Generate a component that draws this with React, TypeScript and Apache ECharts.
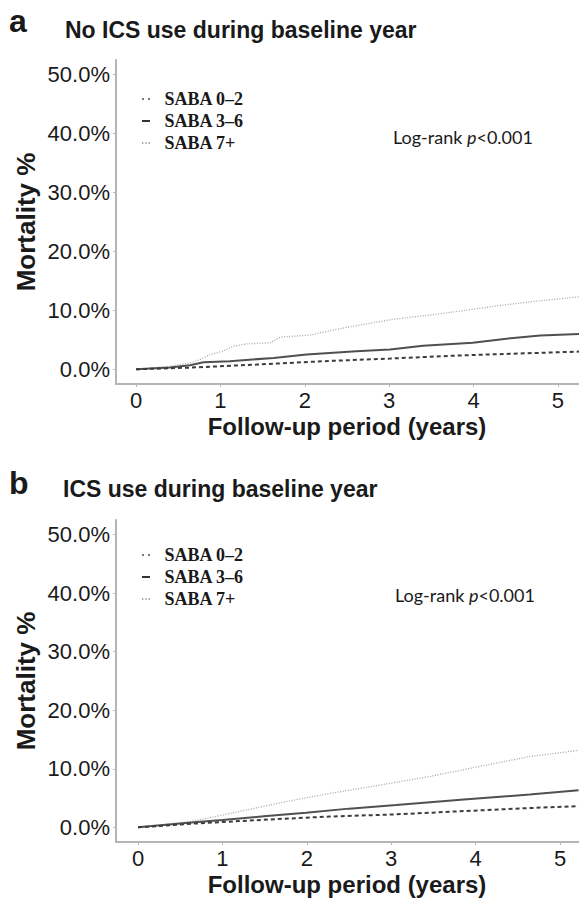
import React, { useEffect, useRef } from "react";
import * as echarts from "echarts";

const SERIES_NAMES = ["SABA 0–2", "SABA 3–6", "SABA 7+"];
const X_TICKS = [0, 1, 2, 3, 4, 5];
const Y_TICKS = [0, 10, 20, 30, 40, 50];

// Panel a: No ICS use during baseline year (years, mortality %)
const A_SABA_0_2 = [[0, 0], [0.64, 0.28], [1.43, 0.8], [2.22, 1.37], [3.01, 1.82], [3.8, 2.33], [4.59, 2.7], [5.25, 3.0]];
const A_SABA_3_6 = [[0, 0], [0.4, 0.3], [0.64, 0.68], [0.8, 1.2], [1.11, 1.37], [1.63, 1.93], [2.02, 2.5], [2.61, 3.07], [3.01, 3.36], [3.4, 4.0], [3.99, 4.5], [4.39, 5.2], [4.79, 5.75], [5.25, 6.0]];
const A_SABA_7 = [[0, 0], [0.4, 0.5], [0.64, 1.07], [0.76, 1.65], [0.88, 2.5], [1.03, 3.07], [1.15, 3.9], [1.31, 4.3], [1.59, 4.5], [1.71, 5.46], [2.06, 5.8], [2.38, 6.8], [2.69, 7.6], [3.05, 8.5], [3.48, 9.2], [3.9, 10.0], [4.27, 10.75], [4.7, 11.5], [5.25, 12.3]];

// Panel b: ICS use during baseline year
const B_SABA_0_2 = [[0, 0], [0.7, 0.68], [1.49, 1.3], [2.27, 1.85], [3.02, 2.2], [3.86, 2.78], [4.64, 3.3], [5.22, 3.63]];
const B_SABA_3_6 = [[0, 0], [0.7, 0.9], [1.0, 1.24], [1.49, 1.9], [1.99, 2.5], [2.5, 3.2], [3.06, 3.8], [3.86, 4.76], [4.64, 5.6], [5.22, 6.35]];
const B_SABA_7 = [[0, 0], [0.62, 1.0], [1.0, 2.1], [1.49, 3.6], [1.88, 4.76], [2.27, 5.78], [2.67, 6.75], [3.06, 7.7], [3.46, 8.7], [3.86, 9.86], [4.25, 11.0], [4.64, 12.1], [5.22, 13.15]];

const TEXT = "#1a1a1a";
const AXIS = "#b5b5b5";
const SANS = "'Liberation Sans', Arial, sans-serif";
const SERIF = "'Liberation Serif', 'Times New Roman', serif";

const STYLES = [
  { color: "#3c3c3c", width: 2, type: [4, 3] },
  { color: "#505050", width: 2, type: "solid" },
  { color: "#a6a6a6", width: 1.3, type: [1, 1.6] },
];

const LEGEND_ICONS = [
  { icon: "path://M0,0h2v2h-2z M6,0h2v2h-2z", color: "#777777" },
  { icon: "path://M0,0h8v2h-8z", color: "#333333" },
  { icon: "path://M0,0h1.4v2h-1.4z M3.3,0h1.4v2h-1.4z M6.6,0h1.4v2h-1.4z", color: "#aaaaaa" },
];

function makeX(gridIndex: number, min: number, max: number) {
  return {
    type: "value",
    gridIndex,
    min,
    max,
    axisLine: { show: true, onZero: false, lineStyle: { color: AXIS, width: 2 } },
    axisTick: { show: true, customValues: X_TICKS, length: 3, lineStyle: { color: AXIS, width: 1 } },
    axisLabel: { customValues: X_TICKS, fontSize: 22, color: TEXT, fontFamily: SANS, margin: 5 },
    splitLine: { show: false },
  };
}

function makeY(gridIndex: number) {
  return {
    type: "value",
    gridIndex,
    min: -2.5,
    max: 52.5,
    axisLine: { show: true, onZero: false, lineStyle: { color: AXIS, width: 2 } },
    axisTick: { show: true, customValues: Y_TICKS, length: 3, lineStyle: { color: AXIS, width: 1 } },
    axisLabel: {
      customValues: Y_TICKS,
      fontSize: 22,
      color: TEXT,
      fontFamily: SANS,
      margin: 6,
      formatter: (v: number) => v.toFixed(1) + "%",
    },
    splitLine: { show: false },
  };
}

function makeSeries(data: number[][], idx: number, axisIndex: number) {
  return {
    type: "line",
    name: SERIES_NAMES[idx],
    xAxisIndex: axisIndex,
    yAxisIndex: axisIndex,
    data,
    symbol: "none",
    showSymbol: false,
    lineStyle: { ...STYLES[idx] },
    itemStyle: { color: STYLES[idx].color },
    z: 3 - idx,
  };
}

function makeLegend(top: number) {
  return {
    orient: "vertical",
    left: 137,
    top,
    data: SERIES_NAMES.map((name, i) => ({
      name,
      icon: LEGEND_ICONS[i].icon,
      itemStyle: { color: LEGEND_ICONS[i].color, borderWidth: 0 },
    })),
    itemWidth: 9,
    itemHeight: 2,
    itemGap: 4,
    selectedMode: false,
    textStyle: { fontFamily: SERIF, fontWeight: "bold", fontSize: 18, color: TEXT, padding: [0, 0, 0, 9] },
  };
}

function textEl(text: string, x: number, y: number, fontSize: number, extra: any = {}) {
  return {
    type: "text",
    x,
    y,
    ...extra,
    style: {
      text,
      fontSize,
      fontFamily: SANS,
      fontWeight: "bold",
      fill: TEXT,
      align: extra.align || "left",
      verticalAlign: "middle",
    },
  };
}

function logRank(x: number, y: number) {
  return {
    type: "text",
    x,
    y,
    style: {
      text: "Log-rank {i|p}<0.001",
      fontSize: 18,
      fontFamily: "Lato, 'Open Sans', sans-serif",
      fill: TEXT,
      verticalAlign: "middle",
      rich: { i: { fontStyle: "italic", fontSize: 18, fontFamily: "Lato, 'Open Sans', sans-serif", fill: TEXT } },
    },
  };
}

export default function App() {
  const ref = useRef<HTMLDivElement>(null);
  useEffect(() => {
    if (!ref.current) return;
    const chart = echarts.init(ref.current, null, { renderer: "svg" });
    chart.setOption({
      animation: false,
      backgroundColor: "#ffffff",
      grid: [
        { left: 116, top: 60, width: 463, height: 324 },
        { left: 116, top: 520, width: 463, height: 322 },
      ],
      xAxis: [makeX(0, -0.237, 5.249), makeX(1, -0.261, 5.225)],
      yAxis: [makeY(0), makeY(1)],
      legend: [makeLegend(85), makeLegend(541)],
      series: [
        makeSeries(A_SABA_0_2, 0, 0),
        makeSeries(A_SABA_3_6, 1, 0),
        makeSeries(A_SABA_7, 2, 0),
        makeSeries(B_SABA_0_2, 0, 1),
        makeSeries(B_SABA_3_6, 1, 1),
        makeSeries(B_SABA_7, 2, 1),
      ],
      graphic: [
        textEl("a", 9, 21, 32),
        textEl("No ICS use during baseline year", 65, 30, 23),
        textEl("b", 9, 483, 32),
        textEl("ICS use during baseline year", 63, 489, 23),
        textEl("Mortality %", 26, 222, 26, { rotation: Math.PI / 2, align: "center" }),
        textEl("Mortality %", 26, 681, 26, { rotation: Math.PI / 2, align: "center" }),
        textEl("Follow-up period (years)", 347, 426, 24, { align: "center" }),
        textEl("Follow-up period (years)", 347, 884, 24, { align: "center" }),
        logRank(393, 137),
        logRank(395, 595),
      ],
    });
    return () => chart.dispose();
  }, []);
  return (
    <div
      ref={ref}
      style={{ position: "fixed", left: 0, top: 0, width: 579, height: 899, background: "#fff" }}
    />
  );
}
